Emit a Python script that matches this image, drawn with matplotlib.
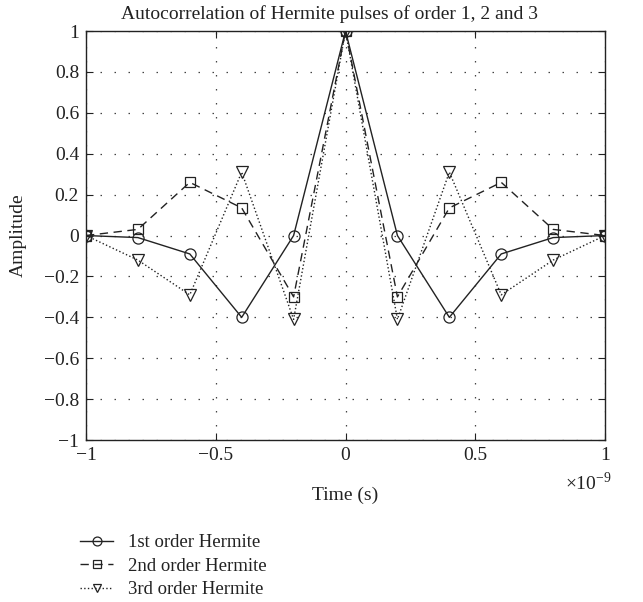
import matplotlib
matplotlib.use("Agg")
import matplotlib.pyplot as plt
from matplotlib.ticker import FixedLocator, FuncFormatter
import numpy as np

plt.rcParams['font.family'] = ['Liberation Serif', 'DejaVu Serif']
plt.rcParams['mathtext.fontset'] = 'custom'
plt.rcParams['mathtext.rm'] = 'Liberation Serif'

time_s = [-1.0e-9, -0.8e-9, -0.6e-9, -0.4e-9, -0.2e-9, 0.0, 0.2e-9, 0.4e-9, 0.6e-9, 0.8e-9, 1.0e-9]
order1 = [0.0, -0.01, -0.09, -0.40, 0.0, 1.0, 0.0, -0.40, -0.09, -0.01, 0.0]
order2 = [0.0, 0.03, 0.26, 0.135, -0.30, 1.0, -0.30, 0.135, 0.26, 0.03, 0.0]
order3 = [0.0, -0.12, -0.29, 0.31, -0.41, 1.0, -0.41, 0.31, -0.29, -0.12, 0.0]
labels = ['1st order Hermite', '2nd order Hermite', '3rd order Hermite']
title = 'Autocorrelation of Hermite pulses of order 1, 2 and 3'
xticks = [-1.0e-9, -0.5e-9, 0.0, 0.5e-9, 1.0e-9]
yticks = [-1.0, -0.8, -0.6, -0.4, -0.2, 0.0, 0.2, 0.4, 0.6, 0.8, 1.0]

FS = 14
C = '#222222'

fig = plt.figure(figsize=(6.43, 6.02), dpi=100)
ax = fig.add_axes([0.1337, 0.269, 0.8073, 0.6795])

ms = 8
ax.plot(time_s, order1, '-', color=C, lw=1.0, marker='o', ms=ms, mfc='none', mec=C, mew=0.9, label=labels[0])
ax.plot(time_s, order2, '--', color=C, lw=1.0, marker='s', ms=ms-1.5, mfc='none', mec=C, mew=0.9, label=labels[1], dashes=(6, 4))
ax.plot(time_s, order3, ':', color=C, lw=1.0, marker='v', ms=ms, mfc='none', mec=C, mew=0.9, label=labels[2])

ax.set_xlim(-1e-9, 1e-9)
ax.set_ylim(-1, 1)
ax.xaxis.set_major_locator(FixedLocator(xticks))
ax.yaxis.set_major_locator(FixedLocator(yticks))

def fmt(v, pos):
    s = '%g' % round(v, 6)
    if s == '-0':
        s = '0'
    return s.replace('-', '\u2212')

ax.yaxis.set_major_formatter(FuncFormatter(fmt))
ax.xaxis.set_major_formatter(FuncFormatter(lambda v, p: fmt(v * 1e9, p)))

ax.tick_params(direction='in', top=True, right=True, labelsize=FS, length=5, width=0.8, colors=C, pad=5)
ax.grid(True, linestyle=(0, (1.2, 10)), color='#444444', lw=0.9)
for sp in ax.spines.values():
    sp.set_linewidth(1.0)
    sp.set_color(C)

ax.set_title(title, fontsize=FS, color=C, pad=9, x=0.469)
ax.set_xlabel('Time (s)', fontsize=FS, color=C, labelpad=16)
ax.set_ylabel('Amplitude', fontsize=FS, color=C, labelpad=12)

fig.text(0.878, 0.198, r'$\times10^{-9}$', fontsize=FS, color=C, ha='left', va='center')

leg = fig.legend(loc='upper left', bbox_to_anchor=(0.124, 0.113), frameon=False,
                 fontsize=13.5, handlelength=1.8, handletextpad=0.8, labelspacing=0.35,
                 borderaxespad=0, borderpad=0, markerscale=0.8)
for t in leg.get_texts():
    t.set_color(C)

fig.savefig('out.png', dpi=100)
